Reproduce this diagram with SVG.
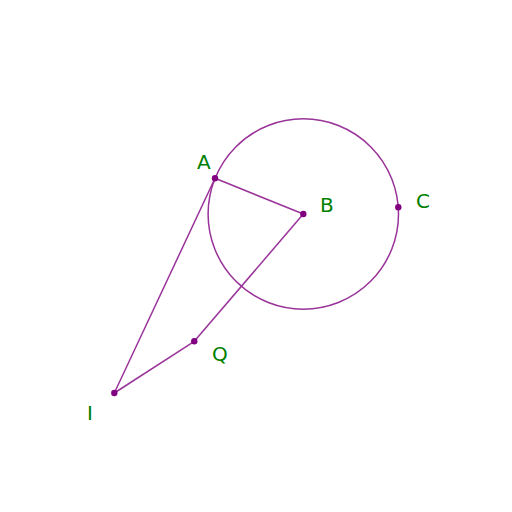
<svg xmlns="http://www.w3.org/2000/svg" width="512" height="512" viewBox="0 0 512 512">
<style>
.ln{stroke:#993399;stroke-width:1.5;fill:none}
.pt{fill:#800080}
.lb{font-family:"DejaVu Sans",sans-serif;font-size:20px;fill:#008000}
</style>
<rect width="512" height="512" fill="#fff"/>
<g id="connectors">
<circle class="ln" cx="303.3" cy="214" r="95.2"/>
<line class="ln" x1="215" y1="178.3" x2="303.3" y2="214"/>
<line class="ln" x1="215" y1="178.3" x2="114.3" y2="393"/>
<line class="ln" x1="114.3" y1="393" x2="194.3" y2="341.3"/>
<line class="ln" x1="194.3" y1="341.3" x2="303.3" y2="214"/>
</g>
<g id="A"><circle class="pt" cx="215" cy="178.3" r="3.2"/><text class="lb" x="197" y="169">A</text></g>
<g id="B"><circle class="pt" cx="303.3" cy="214" r="3.2"/><text class="lb" x="320" y="212">B</text></g>
<g id="C"><circle class="pt" cx="398.3" cy="207.3" r="3.2"/><text class="lb" x="416" y="208">C</text></g>
<g id="Q"><circle class="pt" cx="194.3" cy="341.3" r="3.2"/><text class="lb" x="212" y="361">Q</text></g>
<g id="I"><circle class="pt" cx="114.3" cy="393" r="3.2"/><text class="lb" x="87" y="420">I</text></g>
</svg>
